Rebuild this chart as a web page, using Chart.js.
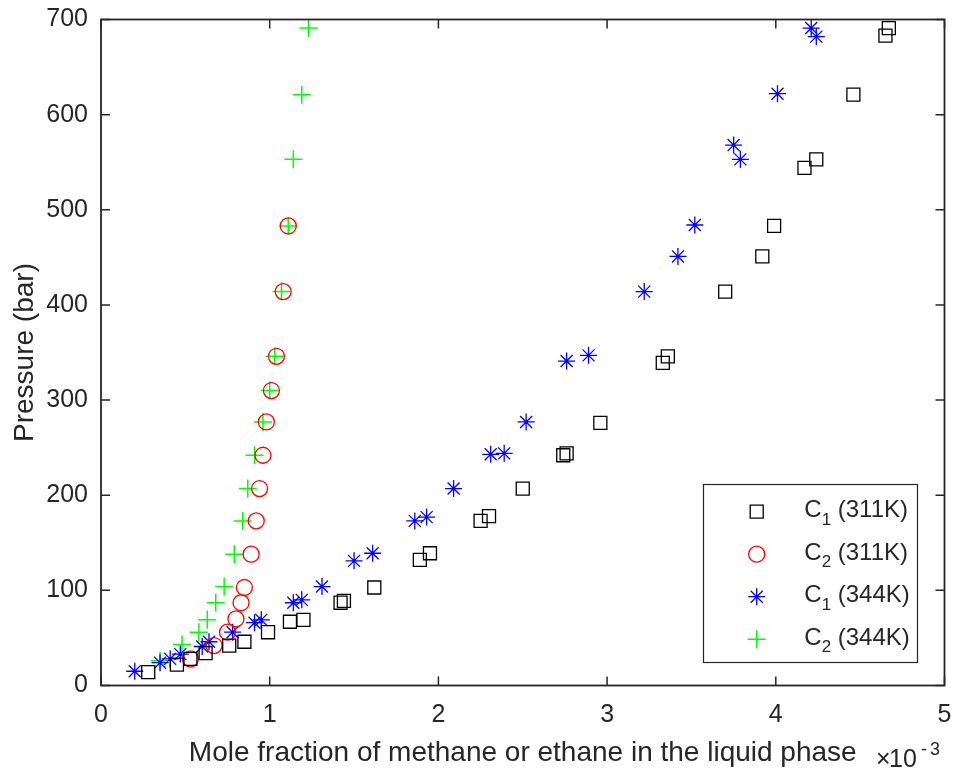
<!DOCTYPE html>
<html>
<head>
<meta charset="utf-8">
<title>Pressure vs mole fraction</title>
<script src="https://cdn.jsdelivr.net/npm/chart.js@4/dist/chart.umd.min.js"></script>
<style>
  html, body { margin: 0; padding: 0; background: #ffffff; }
  #wrap { width: 955px; height: 774px; }
</style>
</head>
<body>
<div id="wrap"><canvas id="phaseChart" width="955" height="774"></canvas></div>
<script>
// dados (x em unidades de 1e-3, pressão em bar)
const c1_311_x = [0.28, 0.45, 0.53, 0.62, 0.76, 0.85, 0.99, 1.12, 1.20, 1.42, 1.44, 1.62, 1.89, 1.95, 2.25, 2.30, 2.50, 2.74, 2.76, 2.96, 3.33, 3.36, 3.70, 3.92, 3.99, 4.17, 4.24, 4.46, 4.65, 4.67];
const c1_311_y = [14, 22, 28, 34, 42, 46, 56, 67, 69, 87, 89, 103, 132, 139, 173, 178, 207, 242, 244, 276, 339, 346, 414, 451, 483, 544, 553, 621, 683, 691];

const c2_311_x = [0.53, 0.67, 0.75, 0.80, 0.83, 0.85, 0.89, 0.92, 0.94, 0.96, 0.98, 1.01, 1.04, 1.08, 1.11];
const c2_311_y = [28, 42, 56, 70, 87, 103, 138, 173, 207, 242, 277, 310, 346, 414, 483];

const c1_344_x = [0.20, 0.35, 0.41, 0.47, 0.60, 0.64, 0.78, 0.91, 0.95, 1.14, 1.19, 1.31, 1.50, 1.61, 1.86, 1.93, 2.09, 2.31, 2.39, 2.52, 2.76, 2.89, 3.22, 3.42, 3.52, 3.75, 3.79, 4.01, 4.21, 4.24];
const c1_344_y = [15, 24, 28, 33, 41, 46, 56, 66, 69, 87, 90, 104, 131, 139, 173, 177, 207, 243, 244, 277, 341, 347, 414, 451, 484, 568, 553, 622, 691, 682];

const c2_344_x = [0.35, 0.48, 0.58, 0.63, 0.68, 0.73, 0.79, 0.84, 0.87, 0.91, 0.96, 1.00, 1.03, 1.07, 1.11, 1.14, 1.19, 1.23];
const c2_344_y = [26, 43, 56, 69, 87, 104, 138, 173, 207, 242, 277, 310, 346, 414, 483, 553, 621, 691];

const xTicks = [0, 1, 2, 3, 4, 5];
const yTicks = [0, 100, 200, 300, 400, 500, 600, 700];

const legendLabels = [
    { base: 'C', sub: '1', rest: ' (311K)' },
    { base: 'C', sub: '2', rest: ' (311K)' },
    { base: 'C', sub: '1', rest: ' (344K)' },
    { base: 'C', sub: '2', rest: ' (344K)' }
];

const FONT = '"Liberation Sans", Arial, Helvetica, sans-serif';
const AXIS_COLOR = '#262626';

function pontos(xs, ys) {
    return xs.map((x, i) => ({ x: x, y: ys[i] }));
}

function serie(label, xs, ys, style, radius, color, width) {
    return {
        label: label,
        data: pontos(xs, ys),
        showLine: false,
        pointStyle: style,
        pointRadius: radius,
        pointHoverRadius: radius,
        pointBorderColor: color,
        pointBackgroundColor: 'rgba(0,0,0,0)',
        pointBorderWidth: width,
        borderColor: color,
        backgroundColor: 'rgba(0,0,0,0)',
        clip: false
    };
}

// caixa, ticks internos, legenda e expoente
const matlabLook = {
    id: 'matlabLook',
    afterDatasetsDraw(chart) {
        const ctx = chart.ctx;
        const a = chart.chartArea;
        const sx = chart.scales.x;
        const sy = chart.scales.y;
        const tl = 9;
        ctx.save();
        ctx.strokeStyle = AXIS_COLOR;
        ctx.lineWidth = 1.8;
        ctx.strokeRect(a.left, a.top, a.right - a.left, a.bottom - a.top);
        ctx.lineWidth = 1.5;
        ctx.beginPath();
        xTicks.forEach(v => {
            const px = sx.getPixelForValue(v);
            ctx.moveTo(px, a.bottom); ctx.lineTo(px, a.bottom - tl);
            ctx.moveTo(px, a.top); ctx.lineTo(px, a.top + tl);
        });
        yTicks.forEach(v => {
            const py = sy.getPixelForValue(v);
            ctx.moveTo(a.left, py); ctx.lineTo(a.left + tl, py);
            ctx.moveTo(a.right, py); ctx.lineTo(a.right - tl, py);
        });
        ctx.stroke();
        ctx.restore();
    },
    afterDraw(chart) {
        const ctx = chart.ctx;
        ctx.save();

        // legenda
        const bx = 703.5, by = 484.5, bw = 214, bh = 178;
        ctx.fillStyle = '#ffffff';
        ctx.fillRect(bx, by, bw, bh);
        ctx.strokeStyle = AXIS_COLOR;
        ctx.lineWidth = 1.2;
        ctx.strokeRect(bx, by, bw, bh);

        chart.data.datasets.forEach((ds, i) => {
            const rowY = 511.7 + i * 42.5;
            ctx.strokeStyle = ds.pointBorderColor;
            ctx.fillStyle = 'rgba(0,0,0,0)';
            ctx.lineWidth = ds.pointBorderWidth;
            Chart.helpers.drawPoint(ctx, {
                pointStyle: ds.pointStyle,
                radius: ds.pointRadius,
                rotation: 0,
                borderWidth: ds.pointBorderWidth
            }, 756.7, rowY);

            const lab = legendLabels[i];
            ctx.fillStyle = AXIS_COLOR;
            ctx.textBaseline = 'alphabetic';
            ctx.textAlign = 'left';
            let tx = 804.3;
            ctx.font = '24px ' + FONT;
            ctx.fillText(lab.base, tx, rowY + 5.5);
            tx += ctx.measureText(lab.base).width;
            ctx.font = '17px ' + FONT;
            ctx.fillText(lab.sub, tx, rowY + 13);
            tx += ctx.measureText(lab.sub).width;
            ctx.font = '24px ' + FONT;
            ctx.fillText(lab.rest, tx, rowY + 5.5);
        });

        // fator de escala do eixo x
        ctx.fillStyle = AXIS_COLOR;
        ctx.textBaseline = 'alphabetic';
        ctx.textAlign = 'left';
        ctx.font = '25px ' + FONT;
        ctx.fillText('\u00d7', 876, 767);
        ctx.fillText('10', 889, 767);
        ctx.font = '18px ' + FONT;
        ctx.fillText('-', 921, 755);
        ctx.fillText('3', 930, 755);

        ctx.restore();
    }
};

var ctx = document.getElementById('phaseChart').getContext('2d');
var phaseChart = new Chart(ctx, {
    type: 'scatter',
    data: {
        datasets: [
            serie('C1 (311K)', c1_311_x, c1_311_y, 'rect', 9.2, '#000000', 1.3),
            serie('C2 (311K)', c2_311_x, c2_311_y, 'circle', 8, '#ff0000', 1.3),
            serie('C1 (344K)', c1_344_x, c1_344_y, 'star', 8.5, '#0000ff', 1.3),
            serie('C2 (344K)', c2_344_x, c2_344_y, 'cross', 9, '#00ff00', 1.5)
        ]
    },
    options: {
        responsive: false,
        animation: false,
        events: [],
        layout: { padding: { left: 0, top: 19.5, right: 10, bottom: 0 } },
        plugins: {
            legend: { display: false },
            tooltip: { enabled: false }
        },
        scales: {
            x: {
                type: 'linear',
                min: 0,
                max: 5,
                afterBuildTicks: (scale) => { scale.ticks = xTicks.map(v => ({ value: v })); },
                afterFit: (scale) => {
                    scale.height = 88.5;
                    scale.paddingLeft = 0;
                    scale.paddingRight = 0;
                },
                grid: { display: false, drawTicks: false },
                border: { display: false },
                ticks: {
                    color: AXIS_COLOR,
                    font: { family: FONT, size: 25 },
                    padding: 15,
                    maxRotation: 0
                },
                title: {
                    display: true,
                    text: 'Mole fraction of methane or ethane in the liquid phase',
                    color: AXIS_COLOR,
                    font: { family: FONT, size: 28 },
                    padding: { top: 0, bottom: 4 }
                }
            },
            y: {
                type: 'linear',
                min: 0,
                max: 700,
                afterBuildTicks: (scale) => { scale.ticks = yTicks.map(v => ({ value: v })); },
                afterFit: (scale) => {
                    scale.width = 101;
                    scale.paddingTop = 0;
                    scale.paddingBottom = 0;
                },
                grid: { display: false, drawTicks: false },
                border: { display: false },
                ticks: {
                    color: AXIS_COLOR,
                    font: { family: FONT, size: 25 },
                    padding: 13
                },
                title: {
                    display: true,
                    text: 'Pressure (bar)',
                    color: AXIS_COLOR,
                    font: { family: FONT, size: 28 },
                    padding: { top: 8, bottom: 0 }
                }
            }
        }
    },
    plugins: [matlabLook]
});
</script>
</body>
</html>
